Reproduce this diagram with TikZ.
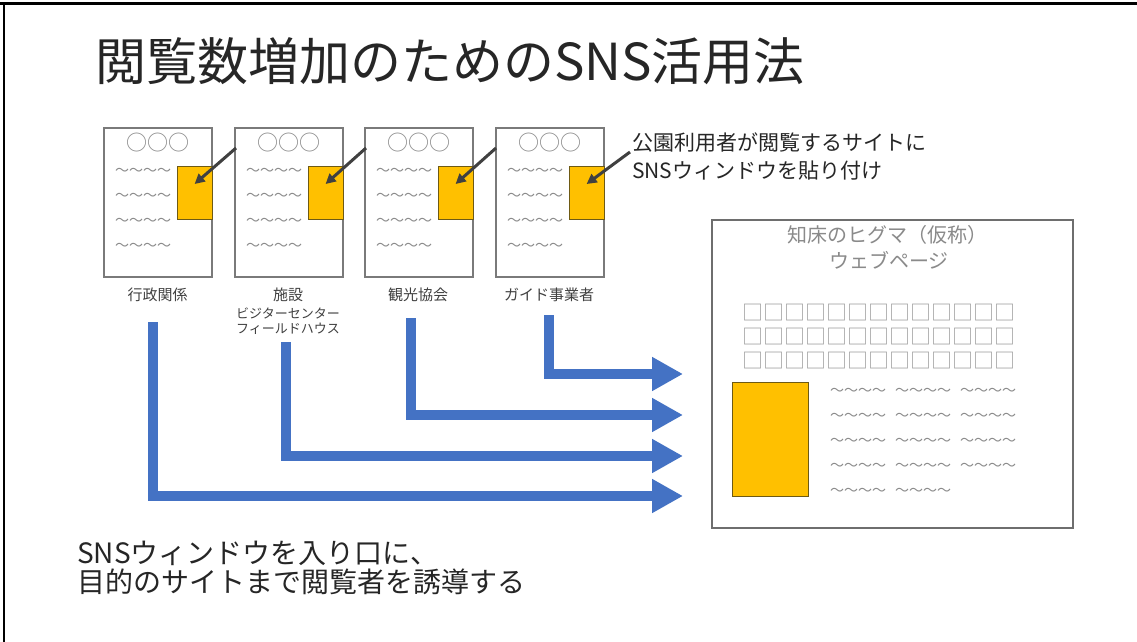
\documentclass[tikz,border=0pt]{standalone}
\usepackage{fontspec}
\setmainfont{Noto Sans CJK JP}
\usetikzlibrary{arrows.meta,calc}
\definecolor{blueA}{HTML}{4472C4}
\definecolor{orangeA}{HTML}{FFC000}
\definecolor{orangeEdge}{HTML}{6E5A14}
\definecolor{grayT}{HTML}{8A8A8A}
\definecolor{grayL}{HTML}{404040}
\definecolor{grayB}{HTML}{7A7A7A}
\definecolor{darkA}{HTML}{404040}
\newcommand\tgap{\hspace{9pt}}
\begin{document}
\begin{tikzpicture}[x=1pt,y=-1pt,
  pagebox/.style={draw=grayB,line width=1.6pt,minimum width=108pt,minimum height=149pt,inner sep=0pt,anchor=north west},
  winbox/.style={draw=orangeEdge,fill=orangeA,line width=1pt,minimum width=35pt,minimum height=53pt,inner sep=0pt,anchor=north east},
  circs/.style={text=grayT,font=\fontsize{21}{21}\selectfont,inner sep=0pt},
  tildes/.style={text=grayT,font=\fontsize{14}{14}\selectfont,inner sep=0pt,anchor=west},
  lab/.style={text=grayL,font=\fontsize{15}{15}\selectfont,inner sep=0pt},
  sublab/.style={text=grayL,font=\fontsize{13}{13}\selectfont,inner sep=0pt},
  darr/.style={draw=darkA,line width=3pt,-{Triangle[length=10pt,width=10pt]}},
  barr/.style={draw=blueA,line width=10pt,line join=miter,-{Triangle[length=31pt,width=32pt]}},
  webtext/.style={text=grayT,font=\fontsize{20}{20}\selectfont,inner sep=0pt},
  sq/.style={text=grayT!80,font=\fontsize{21}{25}\selectfont,inner sep=0pt},
  bigtext/.style={anchor=west,inner sep=0pt,font=\fontsize{28}{28}\selectfont,text=black!85},
  calltext/.style={anchor=west,inner sep=0pt,font=\fontsize{21}{21}\selectfont,text=black!85}
]
\useasboundingbox (0,0) rectangle (1137,642);
\fill[white] (0,0) rectangle (1137,642);
% frame
\draw[line width=3pt] (0,4) -- (1137,4);
\draw[line width=2pt] (4,4) -- (4,642);

% title
\node[anchor=west,inner sep=0pt,font=\fontsize{51}{60}\selectfont,text=black!85] (title) at (95,61) {閲覧数増加のためのSNS活用法};

% page boxes
\foreach \i/\L in {1/103,2/234,3/364,4/495}{
  \node[pagebox] (b\i) at (\L,127) {};
  \node[winbox] (o\i) at ($(b\i.north east)+(0,39)$) {};
  \node[circs] (c\i) at ($(b\i.north)+(0,16)$) {○○○};
  \foreach \r/\yy in {1/172,2/197,3/222,4/247}{
    \node[tildes] (t\i\r) at (\L+12,\yy) {～～～～};
  }
}

% labels
\node[lab] (l1) at (157.5,295) {行政関係};
\node[lab] (l2) at (288,295) {施設};
\node[sublab] (l2a) at (288,313) {ビジターセンター};
\node[sublab] (l2b) at (288,329) {フィールドハウス};
\node[lab] (l3) at (418,295) {観光協会};
\node[lab] (l4) at (549,295) {ガイド事業者};

% callout
\node[calltext] (call1) at (632,143) {公園利用者が閲覧するサイトに};
\node[calltext] (call2) at (632,171) {SNSウィンドウを貼り付け};

% dark arrows
\coordinate (s1) at (236,148);
\coordinate (s2) at (366,148);
\coordinate (s3) at (496,148);
\coordinate (s4) at (630,152);
\foreach \i in {1,2,3,4}{
  \draw[darr] (s\i) -- ($(o\i.center)+(0,-9)$);
}

% web page
\node[draw=grayB!90!black,line width=1.5pt,minimum width=361pt,minimum height=308pt,inner sep=0pt,anchor=north west] (web) at (711,219) {};
\node[webtext] (w1) at (887,235) {知床のヒグマ（仮称）};
\node[webtext] (w2) at (889,260) {ウェブページ};
\foreach \r/\yy in {1/313,2/337,3/361}{
  \node[sq] (q\r) at (879,\yy) {□□□□□□□□□□□□□};
}
\node[draw=orangeEdge,fill=orangeA,line width=1pt,minimum width=76pt,minimum height=114pt,inner sep=0pt,anchor=north west] (ow) at (732,382) {};
\foreach \r/\yy in {1/392,2/417,3/442,4/467}{
  \node[tildes] (wt\r) at (830,\yy) {～～～～\tgap～～～～\tgap～～～～};
}
\node[tildes] (wt5) at (830,492) {～～～～\tgap～～～～};

% blue arrows
\coordinate (a1) at (153,322);
\coordinate (a2) at (286,342);
\coordinate (a3) at (411,318);
\coordinate (a4) at (549,315);
\coordinate (e1) at (683,496);
\coordinate (e2) at (683,456);
\coordinate (e3) at (683,415);
\coordinate (e4) at (683,374);
\foreach \i in {1,2,3,4}{
  \draw[barr] (a\i) |- (e\i);
}

% bottom text
\node[bigtext] (m1) at (77,553) {SNSウィンドウを入り口に、};
\node[bigtext] (m2) at (77,582) {目的のサイトまで閲覧者を誘導する};
\end{tikzpicture}
\end{document}
